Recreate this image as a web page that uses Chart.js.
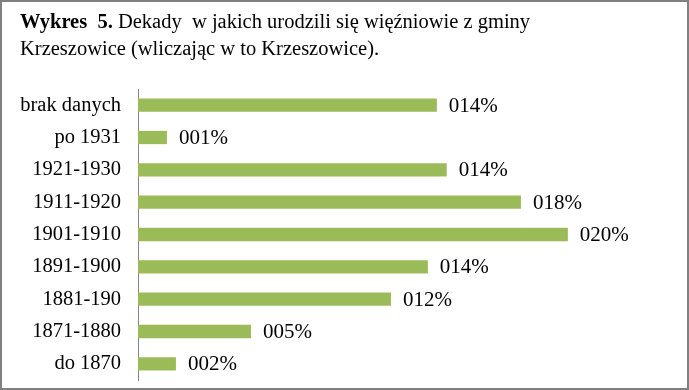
<!DOCTYPE html>
<html>
<head>
<meta charset="utf-8">
<script src="https://cdn.jsdelivr.net/npm/chart.js@4.4.1/dist/chart.umd.min.js"></script>
<style>
    body { margin: 0; background: #fff; }
    #wrap { position: relative; width: 689px; height: 390px; }
    #frame { position: absolute; left: 0; top: 0; width: 689px; height: 390px; box-sizing: border-box; border: 2px solid #808080; pointer-events: none; }
    #title { position: absolute; left: 20px; top: 8px; font-family: "Liberation Serif", "Times New Roman", serif; font-size: 20.5px; line-height: 27px; color: #000; white-space: nowrap; }
    #chart { position: absolute; left: 0; top: 0; }
</style>
</head>
<body>
<div id="wrap">
    <canvas id="chart" width="689" height="390"></canvas>
    <div id="title"><b>Wykres&nbsp; 5.</b> Dekady&nbsp; w jakich urodzili się więźniowie z gminy<br>Krzeszowice (wliczając w to Krzeszowice).</div>
    <div id="frame"></div>
</div>
<script>
// Decades of birth, top to bottom as in the picture
const categories = ['brak danych', 'po 1931', '1921-1930', '1911-1920', '1901-1910', '1891-1900', '1881-190', '1871-1880', 'do 1870'];
// Share of prisoners (fraction of total)
const shares = [0.1394, 0.0135, 0.1440, 0.1786, 0.2005, 0.1352, 0.1180, 0.0527, 0.0177];

// Word-style "000%" labels
function formatShare(v) {
    return String(Math.round(v * 100)).padStart(3, '0') + '%';
}

// Draw value labels right of each bar
const barLabelPlugin = {
    id: 'barLabelPlugin',
    afterDatasetsDraw(chart) {
        const { ctx } = chart;
        const meta = chart.getDatasetMeta(0);
        ctx.save();
        ctx.font = '21px "Liberation Serif", "Times New Roman", serif';
        ctx.fillStyle = '#000';
        ctx.textAlign = 'left';
        ctx.textBaseline = 'middle';
        meta.data.forEach((bar, i) => {
            ctx.fillText(formatShare(shares[i]), bar.x + 12, bar.y + 1);
        });
        ctx.restore();
    }
};

new Chart(document.getElementById('chart').getContext('2d'), {
    type: 'bar',
    data: {
        labels: categories,
        datasets: [{
            data: shares,
            backgroundColor: '#9BBB59',
            borderWidth: 0,
            barPercentage: 0.82,
            categoryPercentage: 0.5
        }]
    },
    options: {
        indexAxis: 'y',
        responsive: false,
        animation: false,
        layout: { padding: { top: 89, bottom: 10, left: 0, right: 15 } },
        plugins: {
            legend: { display: false },
            tooltip: { enabled: false }
        },
        scales: {
            x: {
                display: false,
                min: 0,
                max: 0.25
            },
            y: {
                // fixed axis width, and no extra room for half label heights
                afterFit(scale) {
                    scale.width = 138;
                    scale.paddingTop = 0;
                    scale.paddingBottom = 0;
                },
                grid: { display: false, drawTicks: false },
                border: { display: true, color: '#868686', width: 1 },
                ticks: {
                    padding: 17,
                    color: '#000',
                    font: { family: '"Liberation Serif", "Times New Roman", serif', size: 20.5 }
                }
            }
        }
    },
    plugins: [barLabelPlugin]
});
</script>
</body>
</html>
